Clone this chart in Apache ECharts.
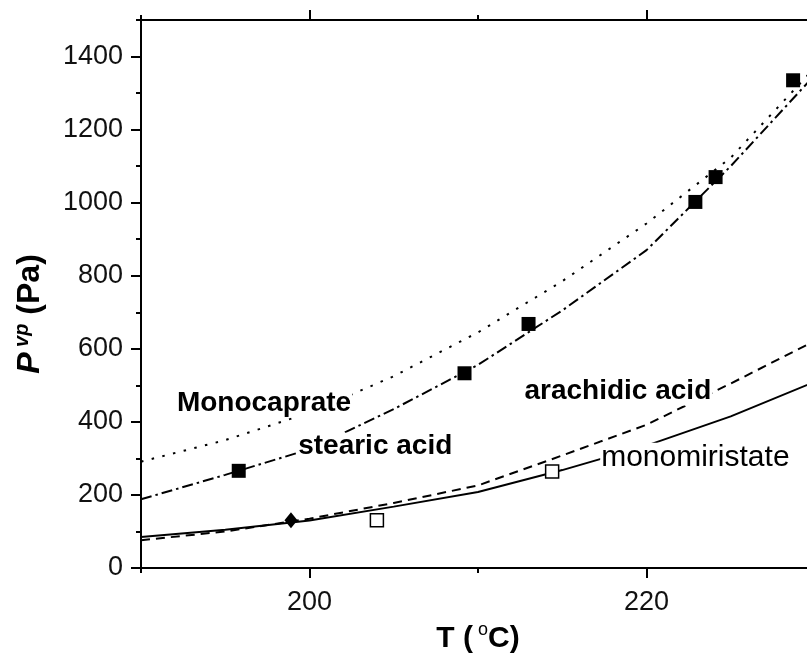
<!DOCTYPE html>
<html>
<head>
<meta charset="utf-8">
<script src="https://cdn.jsdelivr.net/npm/echarts@6/dist/echarts.min.js"></script>
<style>
  html, body { margin: 0; padding: 0; background: #fff; }
  #chart { width: 807px; height: 653px; }
</style>
</head>
<body>
<div id="chart"></div>
<script>
// Vapour pressure vs temperature for four components
const temps = [190, 195, 200, 205, 210, 215, 220, 225, 230];
const monocaprate   = [291, 350, 425, 525, 645, 785, 943, 1123, 1370];
const stearicAcid   = [188, 255, 325, 435, 556, 705, 870, 1100, 1350];
const arachidicAcid = [76, 100, 135, 178, 226, 308, 392, 505, 622];
const monomiristate = [85, 105, 130, 168, 208, 268, 335, 415, 510];

// Experimental points
const stearicExpT = [195.8, 209.2, 213.0, 222.9, 224.1, 228.7];
const stearicExpP = [266, 533, 668, 1002, 1070, 1335];
const miristateExpT = [204.0, 214.4];
const miristateExpP = [131, 264];
const arachidicExpT = [198.9];
const arachidicExpP = [131];

// Axis tick values
const xMajorTicks = [200, 220];
const yMajorTicks = [0, 200, 400, 600, 800, 1000, 1200, 1400];

// Curve captions: [T, P, text, weight, size]
const captions = [
  [197.3, 451, 'Monocaprate', 'bold', 28],
  [203.9, 332, 'stearic acid', 'bold', 28],
  [218.3, 483, 'arachidic acid', 'bold', 28],
  [222.9, 302, 'monomiristate', 'normal', 30]
];

const FONT = '"Liberation Sans", Arial, Helvetica, sans-serif';
const INK = '#000';

const zip = (xs, ys) => xs.map((x, i) => [x, ys[i]]);

function lineSeries(name, values, dash) {
  return {
    name, type: 'line', data: zip(temps, values),
    symbol: 'none', smooth: false, z: 2, silent: true,
    lineStyle: { color: INK, width: 2, type: dash, cap: 'butt', opacity: 1 }
  };
}

const axisLine = { show: true, lineStyle: { color: INK, width: 2 } };
const tickStyle = { color: INK, width: 2 };
const plain = v => String(v);

const chart = echarts.init(document.getElementById('chart'), null, { renderer: 'canvas' });

chart.setOption({
  animation: false,
  backgroundColor: '#fff',
  grid: { left: 141, top: 20, width: 674, height: 548, outerBoundsMode: 'none', containLabel: false },
  xAxis: [
    {
      type: 'value', min: 190, max: 230, interval: 10, position: 'bottom',
      axisLine,
      axisTick: { show: true, inside: false, length: 10, customValues: xMajorTicks, lineStyle: tickStyle },
      axisLabel: { show: true, customValues: xMajorTicks, formatter: plain, fontFamily: FONT, fontSize: 27, color: '#111', margin: 21 },
      splitLine: { show: false },
      name: '{b|T (}{s| o}{b|C)}',
      nameLocation: 'middle', nameGap: 53,
      nameTextStyle: {
        rich: {
          b: { fontFamily: FONT, fontWeight: 'bold', fontSize: 30, color: INK, lineHeight: 36 },
          s: { fontFamily: FONT, fontSize: 18, color: INK, verticalAlign: 'top', lineHeight: 18 }
        }
      }
    },
    {
      type: 'value', min: 190, max: 230, interval: 10, position: 'bottom',
      axisLine: { show: false },
      axisTick: { show: true, inside: false, length: 5, lineStyle: tickStyle },
      axisLabel: { show: false }, splitLine: { show: false }
    },
    {
      type: 'value', min: 190, max: 230, interval: 10, position: 'top',
      axisLine,
      axisTick: { show: true, inside: false, length: 10, customValues: xMajorTicks, lineStyle: tickStyle },
      axisLabel: { show: false }, splitLine: { show: false }
    },
    {
      type: 'value', min: 190, max: 230, interval: 10, position: 'top',
      axisLine: { show: false },
      axisTick: { show: true, inside: false, length: 5, lineStyle: tickStyle },
      axisLabel: { show: false }, splitLine: { show: false }
    }
  ],
  yAxis: [
    {
      type: 'value', min: 0, max: 1500, interval: 100, position: 'left',
      axisLine,
      axisTick: { show: true, inside: false, length: 10, customValues: yMajorTicks, lineStyle: tickStyle },
      axisLabel: { show: true, customValues: yMajorTicks, formatter: plain, fontFamily: FONT, fontSize: 27, color: '#111', margin: 18 },
      splitLine: { show: false },
      name: '{i|P}{s| vp}{b| (Pa)}',
      nameLocation: 'middle', nameRotate: 90, nameGap: 93,
      nameTextStyle: {
        padding: [0, 40, 0, 0],
        rich: {
          i: { fontFamily: FONT, fontWeight: 'bold', fontStyle: 'italic', fontSize: 32, color: INK, lineHeight: 36 },
          s: { fontFamily: FONT, fontWeight: 'bold', fontStyle: 'italic', fontSize: 20, color: INK, verticalAlign: 'top', lineHeight: 20 },
          b: { fontFamily: FONT, fontWeight: 'bold', fontSize: 32, color: INK, lineHeight: 36 }
        }
      }
    },
    {
      type: 'value', min: 0, max: 1500, interval: 100, position: 'left',
      axisLine: { show: false },
      axisTick: { show: true, inside: false, length: 5, lineStyle: tickStyle },
      axisLabel: { show: false }, splitLine: { show: false }
    }
  ],
  series: [
    lineSeries('Monocaprate', monocaprate, [2.5, 8.5]),
    lineSeries('stearic acid', stearicAcid, [11, 4, 2.5, 4]),
    lineSeries('arachidic acid', arachidicAcid, [9, 6]),
    lineSeries('monomiristate', monomiristate, 'solid'),
    {
      name: 'stearic acid (exp.)', type: 'scatter', z: 4, silent: true,
      data: zip(stearicExpT, stearicExpP),
      symbol: 'rect', symbolSize: 14, itemStyle: { color: INK, opacity: 1 }
    },
    {
      name: 'monomiristate (exp.)', type: 'scatter', z: 4, silent: true,
      data: zip(miristateExpT, miristateExpP),
      symbol: 'rect', symbolSize: 13,
      itemStyle: { color: '#fff', borderColor: INK, borderWidth: 1.5, opacity: 1 }
    },
    {
      name: 'arachidic acid (exp.)', type: 'scatter', z: 4, silent: true,
      data: zip(arachidicExpT, arachidicExpP),
      symbol: 'diamond', symbolSize: [13, 16], itemStyle: { color: INK, opacity: 1 }
    },
    {
      name: 'captions', type: 'scatter', z: 6, silent: true,
      symbolSize: 0, itemStyle: { opacity: 1 },
      data: captions.map(c => ({
        value: [c[0], c[1]],
        label: {
          show: true, position: 'inside', formatter: c[2],
          fontFamily: FONT, fontWeight: c[3], fontSize: c[4], color: INK, opacity: 1,
          backgroundColor: '#fff', padding: [0, 1]
        }
      }))
    }
  ]
});
</script>
</body>
</html>
